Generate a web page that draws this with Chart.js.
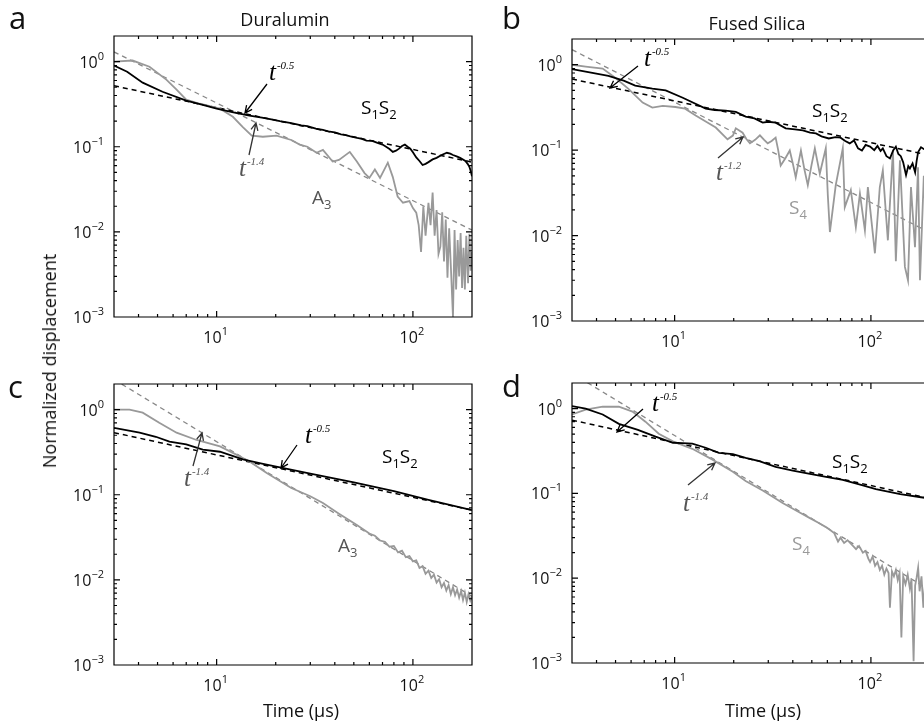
<!DOCTYPE html>
<html>
<head>
<meta charset="utf-8">
<script src="https://cdn.jsdelivr.net/npm/chart.js@4.4.1/dist/chart.umd.min.js"></script>
<style>
  html, body { margin: 0; padding: 0; width: 924px; height: 724px; overflow: hidden; background: #fff; }
  canvas { position: absolute; left: 0; top: 0; }
  .lbl { position: absolute; font-family: 'Open Sans', sans-serif; color: #111; white-space: nowrap; line-height: 1; }
</style>
</head>
<body>
<canvas id="panelA" width="940" height="724"></canvas>
<canvas id="panelB" width="940" height="724"></canvas>
<canvas id="panelC" width="940" height="724"></canvas>
<canvas id="panelD" width="940" height="724"></canvas>

<div class="lbl" style="left:9px; top:2px; font-size:31px;">a</div>
<div class="lbl" style="left:502px; top:2px; font-size:31px;">b</div>
<div class="lbl" style="left:8px; top:371px; font-size:31px;">c</div>
<div class="lbl" style="left:502px; top:370px; font-size:31px;">d</div>
<div class="lbl" style="left:285px; top:10px; font-size:18px; transform:translateX(-50%);">Duralumin</div>
<div class="lbl" style="left:757px; top:14px; font-size:18px; transform:translateX(-50%);">Fused Silica</div>
<div class="lbl" style="left:49px; top:361px; font-size:18px; transform:translate(-50%,-50%) rotate(-90deg);">Normalized displacement</div>
<div class="lbl" style="left:301px; top:701px; font-size:18px; transform:translateX(-50%);">Time (µs)</div>
<div class="lbl" style="left:763px; top:701px; font-size:18px; transform:translateX(-50%);">Time (µs)</div>

<script>
// ---------- values ----------
// (a) Duralumin : S1S2 (black) and A3 (grey)
const aS12T = [3, 3.5, 4.2, 5.3, 7, 8.5, 10, 12, 14.7, 17, 19, 21, 24, 27, 29, 32, 34.8, 37, 40, 43, 45, 48, 52, 55, 58, 62, 66, 70, 73, 76, 79, 82, 85, 88, 91, 94, 97, 100, 104, 108, 112, 116, 120, 126, 132, 140, 149, 155, 160, 167, 174, 180, 185, 190, 194, 197, 200];
const aS12V = [0.90, 0.76, 0.566, 0.443, 0.348, 0.31, 0.28, 0.255, 0.232, 0.22, 0.21, 0.2, 0.19, 0.178, 0.175, 0.163, 0.158, 0.152, 0.148, 0.14, 0.138, 0.132, 0.127, 0.124, 0.118, 0.117, 0.111, 0.106, 0.1, 0.094, 0.087, 0.09, 0.095, 0.102, 0.106, 0.1, 0.095, 0.086, 0.075, 0.068, 0.061, 0.063, 0.066, 0.071, 0.074, 0.08, 0.085, 0.083, 0.08, 0.077, 0.074, 0.071, 0.068, 0.063, 0.058, 0.052, 0.045];
const aA3T = [3, 3.73, 4.55, 5.56, 6.25, 7, 8.2, 10.4, 12.1, 13.6, 15.1, 17.2, 20.2, 24, 26.5, 29, 32.3, 34.8, 39, 42, 47.7, 51.8, 56.7, 60, 64, 68, 74.5, 79, 83.6, 89, 96, 100, 104, 107, 110, 113, 116, 120, 123, 126, 129, 132, 135, 138, 141, 144, 147, 150, 153, 156, 160, 163, 166, 169, 172, 175, 178, 181, 184, 187, 191, 194, 197, 200];
const aA3V = [1.0, 1.03, 0.87, 0.61, 0.47, 0.357, 0.32, 0.28, 0.225, 0.17, 0.135, 0.131, 0.135, 0.12, 0.106, 0.1, 0.085, 0.092, 0.067, 0.07, 0.087, 0.067, 0.049, 0.043, 0.054, 0.043, 0.065, 0.044, 0.026, 0.022, 0.023, 0.019, 0.0168, 0.012, 0.0058, 0.02, 0.009, 0.022, 0.012, 0.029, 0.009, 0.018, 0.0055, 0.0067, 0.017, 0.0045, 0.014, 0.0029, 0.011, 0.004, 0.001, 0.0105, 0.0021, 0.008, 0.003, 0.0097, 0.0022, 0.0065, 0.0021, 0.009, 0.0025, 0.0095, 0.0035, 0.0058];
const aFit05 = [0.52, 0.066];
const aFit14 = [1.3, 0.0105];

// (b) Fused silica : S1S2 (black) and S4 (grey)
const bS12T = [3, 3.52, 4.6, 5.5, 6.3, 7.7, 9, 11, 14.4, 16, 18.2, 20.5, 23, 25.5, 28.1, 30, 32.7, 36.8, 41, 45, 49, 52.5, 56, 61, 66, 70, 74, 78, 82, 86, 90, 94, 99, 104, 108, 112, 115, 120, 125, 130, 134, 138, 142, 146, 151, 155, 158, 163, 168, 171, 174, 180, 190, 200];
const bS12V = [0.89, 0.83, 0.74, 0.65, 0.57, 0.525, 0.5, 0.41, 0.306, 0.295, 0.29, 0.28, 0.247, 0.235, 0.21, 0.215, 0.21, 0.18, 0.175, 0.17, 0.16, 0.157, 0.145, 0.137, 0.142, 0.14, 0.128, 0.12, 0.13, 0.105, 0.099, 0.115, 0.11, 0.1, 0.112, 0.098, 0.105, 0.085, 0.08, 0.1, 0.11, 0.09, 0.085, 0.072, 0.051, 0.065, 0.061, 0.07, 0.055, 0.075, 0.095, 0.108, 0.1, 0.1];
const bS4T = [3, 3.52, 4.3, 5, 5.8, 6.87, 7.7, 8.7, 10.1, 11.3, 12.8, 14.4, 16.2, 18.6, 19.8, 20.5, 22.2, 23.2, 24.2, 25.7, 27.2, 28.5, 29.8, 31.2, 32.7, 33.7, 34.7, 36.6, 38.6, 40, 41.4, 42.7, 44, 45.8, 47.7, 49.7, 51.8, 53.3, 54.9, 56.9, 58.9, 60.3, 61.8, 66.2, 71.9, 73.6, 79, 83.8, 87.9, 93.2, 96.5, 104.8, 111, 115, 122, 129.5, 134, 140.6, 149, 154.5, 160, 167.7, 173.8, 177.8, 186, 195, 200];
const bS4V = [1.0, 0.95, 0.9, 0.7, 0.525, 0.36, 0.315, 0.33, 0.32, 0.306, 0.254, 0.216, 0.184, 0.134, 0.148, 0.18, 0.16, 0.135, 0.12, 0.132, 0.149, 0.133, 0.12, 0.128, 0.14, 0.1, 0.066, 0.08, 0.099, 0.07, 0.048, 0.07, 0.099, 0.06, 0.039, 0.065, 0.105, 0.075, 0.053, 0.075, 0.105, 0.03, 0.011, 0.039, 0.105, 0.0215, 0.034, 0.0125, 0.031, 0.0115, 0.037, 0.0062, 0.037, 0.058, 0.0088, 0.099, 0.005, 0.076, 0.0043, 0.003, 0.037, 0.0073, 0.063, 0.003, 0.05, 0.005, 0.03];
const bFit05 = [0.68, 0.087];
const bFit12 = [1.5, 0.0108];

// (c) Duralumin, second row : S1S2 (black) and A3 (grey)
const cS12T = [3, 4.05, 4.9, 5.75, 7, 8.5, 10.4, 13.6, 17, 21, 30, 50, 80, 120, 200];
const cS12V = [0.61, 0.536, 0.48, 0.42, 0.39, 0.338, 0.32, 0.26, 0.232, 0.21, 0.177, 0.14, 0.11, 0.087, 0.066];
const cA3T = [3, 3.6, 4.2, 5.1, 6.25, 7.9, 10.4, 12.6, 14.7, 18, 24, 30, 34.8, 42, 51.8, 60, 64, 68, 72, 76, 80, 84, 88, 92, 96, 100, 104, 108, 112, 116, 120, 124, 128, 132, 136, 140, 144, 148, 152, 156, 160, 164, 168, 172, 176, 180, 184, 188, 192, 196, 200];
const cA3V = [1.0, 1.0, 0.92, 0.7, 0.536, 0.44, 0.37, 0.296, 0.245, 0.18, 0.12, 0.096, 0.08, 0.06, 0.044, 0.035, 0.033, 0.029, 0.028, 0.0245, 0.025, 0.021, 0.022, 0.0185, 0.019, 0.0165, 0.017, 0.0138, 0.0145, 0.0118, 0.0128, 0.0105, 0.0115, 0.0093, 0.0102, 0.0082, 0.0092, 0.0075, 0.0087, 0.0068, 0.0082, 0.0066, 0.0077, 0.0062, 0.0074, 0.0058, 0.0071, 0.0055, 0.0068, 0.0057, 0.0064];
const cFit05 = [0.536, 0.066];
const cFit14 = [2.26, 0.0064];

// (d) Fused silica, second row : S1S2 (black) and S4 (grey)
const dS12T = [3, 3.52, 4.3, 5.2, 6.5, 8, 9.8, 11, 12.3, 14.4, 16.8, 19.8, 23, 27, 32.7, 40, 48.9, 60, 71.9, 90, 106, 141, 180, 200];
const dS12V = [1.07, 1.0, 0.85, 0.66, 0.56, 0.466, 0.395, 0.39, 0.385, 0.345, 0.3, 0.29, 0.262, 0.24, 0.205, 0.185, 0.17, 0.155, 0.144, 0.125, 0.112, 0.098, 0.09, 0.087];
const dS4T = [3, 3.52, 4.3, 5.2, 6.1, 7.1, 8.3, 9.8, 12.3, 15.6, 19.8, 23, 28.1, 35.5, 42, 48.9, 54, 59, 62, 65, 68, 70, 73, 76, 81, 84, 87, 91, 94, 97, 99, 102, 105, 108, 111, 114, 117, 120, 123, 125, 128, 131, 134, 137, 140, 143, 146, 150, 154, 158, 161, 165, 168, 171, 174, 177, 181, 185, 189, 193, 197, 200];
const dS4V = [0.85, 0.97, 1.05, 1.05, 0.92, 0.7, 0.505, 0.41, 0.335, 0.25, 0.18, 0.14, 0.108, 0.077, 0.062, 0.051, 0.045, 0.04, 0.037, 0.034, 0.027, 0.03, 0.026, 0.028, 0.024, 0.022, 0.024, 0.02, 0.021, 0.017, 0.0155, 0.018, 0.014, 0.0155, 0.0125, 0.014, 0.011, 0.013, 0.0115, 0.0045, 0.012, 0.0105, 0.0125, 0.0095, 0.0115, 0.002, 0.0105, 0.0085, 0.011, 0.0075, 0.0098, 0.00105, 0.0082, 0.0102, 0.0133, 0.007, 0.0105, 0.0045, 0.009, 0.0065, 0.0095, 0.0075];
const dFit05 = [0.73, 0.087];
const dFit14 = [2.6, 0.0072];

// fitted power laws are drawn between the axis ends
const fitT = [3, 200];

// axis ticks
const xTickVals = [10, 100];
const xTickExp = ['1', '2'];
const yTickVals = [1, 0.1, 0.01, 0.001];
const yTickExp = ['0', '\u22121', '\u22122', '\u22123'];
const xMinor = [4, 5, 6, 7, 8, 9, 20, 30, 40, 50, 60, 70, 80, 90];
const yMinor = [0.002, 0.003, 0.004, 0.005, 0.006, 0.007, 0.008, 0.009,
                0.02, 0.03, 0.04, 0.05, 0.06, 0.07, 0.08, 0.09,
                0.2, 0.3, 0.4, 0.5, 0.6, 0.7, 0.8, 0.9, 2];

// ---------- drawing ----------
const SANS = "'Open Sans', sans-serif";
const SERIF = "'Liberation Serif', 'DejaVu Serif', serif";

const pts = (t, v) => t.map((x, i) => ({ x: x, y: v[i] }));

const solid = (t, v, color) => ({ data: pts(t, v), borderColor: color, borderWidth: 1.8, clip: 0 });
const dashed = (v, color, w) => ({ data: pts(fitT, v), borderColor: color, borderWidth: w, borderDash: [5, 4], clip: 0 });

// annotations, in page pixels (the canvases cover the whole page)
const S1S2 = [['S', 0], ['1', 1], ['S', 0], ['2', 1]];
const notes = {
    panelA: [
        { k: 'pow', x: 269, y: 80, sup: '-0.5', c: '#000' },
        { k: 'arrow', x1: 267, y1: 84, x2: 245, y2: 113, c: '#000' },
        { k: 'pow', x: 239, y: 176, sup: '-1.4', c: '#555' },
        { k: 'arrow', x1: 249, y1: 155, x2: 256, y2: 123, c: '#333' },
        { k: 'rich', x: 361, y: 114, parts: S1S2, c: '#000' },
        { k: 'rich', x: 312, y: 204, parts: [['A', 0], ['3', 1]], c: '#555' }
    ],
    panelB: [
        { k: 'pow', x: 644, y: 66, sup: '-0.5', c: '#000' },
        { k: 'arrow', x1: 638, y1: 66, x2: 610, y2: 88, c: '#000' },
        { k: 'pow', x: 716, y: 180, sup: '-1.2', c: '#555' },
        { k: 'arrow', x1: 718, y1: 158, x2: 743, y2: 137, c: '#333' },
        { k: 'rich', x: 812, y: 117, parts: S1S2, c: '#000' },
        { k: 'rich', x: 789, y: 214, parts: [['S', 0], ['4', 1]], c: '#999' }
    ],
    panelC: [
        { k: 'pow', x: 305, y: 443, sup: '-0.5', c: '#000' },
        { k: 'arrow', x1: 297, y1: 445, x2: 281, y2: 468, c: '#000' },
        { k: 'pow', x: 184, y: 486, sup: '-1.4', c: '#555' },
        { k: 'arrow', x1: 193, y1: 466, x2: 202, y2: 433, c: '#333' },
        { k: 'rich', x: 382, y: 463, parts: S1S2, c: '#000' },
        { k: 'rich', x: 338, y: 552, parts: [['A', 0], ['3', 1]], c: '#555' }
    ],
    panelD: [
        { k: 'pow', x: 652, y: 411, sup: '-0.5', c: '#000' },
        { k: 'arrow', x1: 643, y1: 409, x2: 617, y2: 432, c: '#000' },
        { k: 'pow', x: 683, y: 511, sup: '-1.4', c: '#555' },
        { k: 'arrow', x1: 688, y1: 485, x2: 715, y2: 463, c: '#333' },
        { k: 'rich', x: 832, y: 468, parts: S1S2, c: '#000' },
        { k: 'rich', x: 792, y: 550, parts: [['S', 0], ['4', 1]], c: '#999' }
    ]
};

function supLabel(ctx, x, y, base, sup, align) {
    ctx.font = '16px ' + SANS;
    const w1 = ctx.measureText(base).width;
    ctx.font = '11px ' + SANS;
    const w2 = ctx.measureText(sup).width;
    let x0 = x;
    if (align === 'right') x0 = x - w1 - w2;
    if (align === 'center') x0 = x - (w1 + w2) / 2;
    ctx.font = '16px ' + SANS;
    ctx.fillText(base, x0, y);
    ctx.font = '11px ' + SANS;
    ctx.fillText(sup, x0 + w1, y - 8);
}

function drawNote(ctx, n) {
    ctx.fillStyle = n.c;
    ctx.strokeStyle = n.c;
    if (n.k === 'pow') {
        ctx.font = 'italic 25px ' + SERIF;
        ctx.fillText('t', n.x, n.y);
        const w = ctx.measureText('t').width;
        ctx.font = 'italic 11px ' + SERIF;
        ctx.fillText(n.sup, n.x + w + 1, n.y - 11);
    } else if (n.k === 'rich') {
        let x = n.x;
        n.parts.forEach(([s, sub]) => {
            ctx.font = (sub ? '13px ' : '19px ') + SANS;
            ctx.fillText(s, x, n.y + (sub ? 5 : 0));
            x += ctx.measureText(s).width;
        });
    } else if (n.k === 'arrow') {
        const ang = Math.atan2(n.y2 - n.y1, n.x2 - n.x1);
        ctx.lineWidth = 1.3;
        ctx.beginPath();
        ctx.moveTo(n.x1, n.y1);
        ctx.lineTo(n.x2, n.y2);
        ctx.moveTo(n.x2 - 8 * Math.cos(ang - 0.45), n.y2 - 8 * Math.sin(ang - 0.45));
        ctx.lineTo(n.x2, n.y2);
        ctx.lineTo(n.x2 - 8 * Math.cos(ang + 0.45), n.y2 - 8 * Math.sin(ang + 0.45));
        ctx.stroke();
    }
}

// MATLAB-like box with inward ticks on every side, labels as 10^n
const framePlugin = {
    id: 'frame',
    afterDatasetsDraw(chart) {
        const { ctx, chartArea: a, scales: { x, y } } = chart;
        ctx.save();
        ctx.strokeStyle = '#000';
        ctx.lineWidth = 1.2;
        ctx.beginPath();
        ctx.rect(a.left, a.top, a.right - a.left, a.bottom - a.top);
        const xt = (vals, len) => vals.forEach(v => {
            const p = x.getPixelForValue(v);
            ctx.moveTo(p, a.bottom); ctx.lineTo(p, a.bottom - len);
            ctx.moveTo(p, a.top); ctx.lineTo(p, a.top + len);
        });
        const yt = (vals, len) => vals.forEach(v => {
            const p = y.getPixelForValue(v);
            ctx.moveTo(a.left, p); ctx.lineTo(a.left + len, p);
            ctx.moveTo(a.right, p); ctx.lineTo(a.right - len, p);
        });
        xt(xTickVals, 6); xt(xMinor, 3);
        yt(yTickVals, 6); yt(yMinor, 3);
        ctx.stroke();

        ctx.fillStyle = '#111';
        ctx.textAlign = 'left';
        ctx.textBaseline = 'alphabetic';
        xTickVals.forEach((v, i) => supLabel(ctx, x.getPixelForValue(v) - 1, a.bottom + 26, '10', xTickExp[i], 'center'));
        yTickVals.forEach((v, i) => supLabel(ctx, a.left - 10, y.getPixelForValue(v) + 6, '10', yTickExp[i], 'right'));

        (notes[chart.canvas.id] || []).forEach(n => drawNote(ctx, n));
        ctx.restore();
    }
};

function makePanel(id, box, datasets) {
    const cv = document.getElementById(id);
    return new Chart(cv.getContext('2d'), {
        type: 'line',
        data: { datasets: datasets },
        options: {
            responsive: false,
            animation: false,
            events: [],
            layout: { padding: { left: box[0], top: box[1], right: cv.width - box[2], bottom: cv.height - box[3] } },
            plugins: { legend: { display: false }, tooltip: { enabled: false } },
            elements: { point: { radius: 0 }, line: { tension: 0 } },
            scales: {
                x: { type: 'logarithmic', min: 3, max: 200, display: false },
                y: { type: 'logarithmic', min: 0.001, max: 2, display: false }
            }
        },
        plugins: [framePlugin]
    });
}

// plot boxes: left, top, right, bottom (page pixels)
makePanel('panelA', [114, 36, 472, 317], [
    solid(aS12T, aS12V, '#000'),
    solid(aA3T, aA3V, '#999'),
    dashed(aFit05, '#000', 1.5),
    dashed(aFit14, '#888', 1.3)
]);
makePanel('panelB', [572, 39, 930, 321], [
    solid(bS12T, bS12V, '#000'),
    solid(bS4T, bS4V, '#999'),
    dashed(bFit05, '#000', 1.5),
    dashed(bFit12, '#888', 1.3)
]);
makePanel('panelC', [114, 384, 472, 665], [
    solid(cS12T, cS12V, '#000'),
    solid(cA3T, cA3V, '#999'),
    dashed(cFit05, '#000', 1.5),
    dashed(cFit14, '#888', 1.3)
]);
makePanel('panelD', [572, 383, 930, 663], [
    solid(dS12T, dS12V, '#000'),
    solid(dS4T, dS4V, '#999'),
    dashed(dFit05, '#000', 1.5),
    dashed(dFit14, '#888', 1.3)
]);
</script>
</body>
</html>
